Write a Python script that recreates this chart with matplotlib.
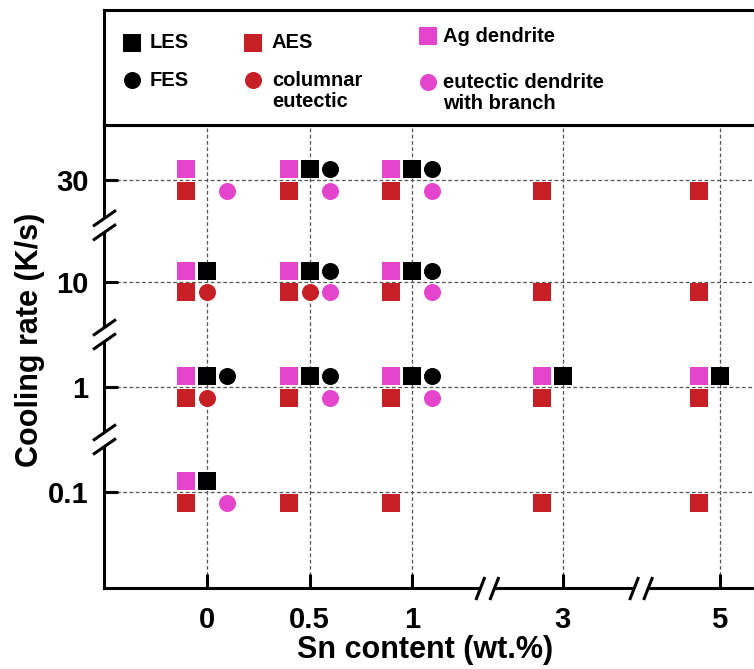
import matplotlib
matplotlib.use("Agg")
import matplotlib.pyplot as plt
from matplotlib.lines import Line2D
from matplotlib.transforms import IdentityTransform

plt.rcParams["font.family"] = ["Liberation Sans", "DejaVu Sans"]
plt.rcParams["font.weight"] = "bold"

# axis categories (both axes are broken)
sn_ticks = [0, 0.5, 1, 3, 5]
rate_ticks = [0.1, 1, 10, 30]

# observed morphologies: Sn content (wt.%) and cooling rate (K/s)
les_sn = [0, 0, 0, 0.5, 0.5, 0.5, 1, 1, 1, 3, 5]
les_rate = [10, 1, 0.1, 30, 10, 1, 30, 10, 1, 1, 1]

fes_sn = [0, 0.5, 0.5, 0.5, 1, 1, 1]
fes_rate = [1, 30, 10, 1, 30, 10, 1]

aes_sn = [0, 0, 0, 0, 0.5, 0.5, 0.5, 0.5, 1, 1, 1, 1, 3, 3, 3, 3, 5, 5, 5, 5]
aes_rate = [30, 10, 1, 0.1, 30, 10, 1, 0.1, 30, 10, 1, 0.1, 30, 10, 1, 0.1, 30, 10, 1, 0.1]

col_sn = [0, 0, 0.5]
col_rate = [10, 1, 10]

ag_sn = [0, 0, 0, 0, 0.5, 0.5, 0.5, 1, 1, 1, 3, 5]
ag_rate = [30, 10, 1, 0.1, 30, 10, 1, 30, 10, 1, 1, 1]

edb_sn = [0, 0, 0.5, 0.5, 0.5, 1, 1, 1]
edb_rate = [30, 0.1, 30, 10, 1, 30, 10, 1]

# where each category sits on the broken axes
sn_pos = {0: 0, 0.5: 1, 1: 2, 3: 3.47, 5: 5.0}
rate_pos = {0.1: 0, 1: 1, 10: 2, 30: 2.97}

RED = "#c62026"
PINK = "#e545cc"

series = [
    # label, sn, rate, marker, color, x shift, y shift
    ("LES", les_sn, les_rate, "s", "black", 0.0, 0.105),
    ("FES", fes_sn, fes_rate, "o", "black", 0.195, 0.105),
    ("AES", aes_sn, aes_rate, "s", RED, -0.205, -0.10),
    ("columnar\neutectic", col_sn, col_rate, "o", RED, 0.0, -0.10),
    ("Ag dendrite", ag_sn, ag_rate, "s", PINK, -0.205, 0.105),
    ("eutectic dendrite\nwith branch", edb_sn, edb_rate, "o", PINK, 0.195, -0.10),
]

W, H = 754, 669
fig = plt.figure(figsize=(W / 100, H / 100), dpi=100)

left, bottom, top, right = 104, 588, 125, 804
ax = fig.add_axes([left / W, (H - bottom) / H, (right - left) / W, (bottom - top) / H])
lax = fig.add_axes([left / W, (H - top) / H, (right - left) / W, (top - 10) / H])

for label, sn, rate, mk, col, dx, dy in series:
    xs = [sn_pos[s] + dx for s in sn]
    ys = [rate_pos[r] + dy for r in rate]
    ax.scatter(xs, ys, marker=mk, s=150, c=col, linewidths=0, zorder=3)

ax.set_xlim(-1.005, 5.824)
ax.set_ylim(-0.914, 3.495)
ax.set_xticks([sn_pos[s] for s in sn_ticks])
ax.set_xticklabels([str(s) for s in sn_ticks])
ax.set_yticks([rate_pos[r] for r in rate_ticks])
ax.set_yticklabels([str(r) for r in rate_ticks])
ax.tick_params(direction="in", length=10, width=2.2, labelsize=21)
ax.tick_params(axis="x", pad=13)
ax.tick_params(axis="y", pad=11)
ax.grid(True, linestyle=(0, (3, 2)), color="#555555", linewidth=0.9, zorder=1)
ax.set_axisbelow(True)
for sp in ["left", "bottom", "top"]:
    ax.spines[sp].set_linewidth(2.2)
ax.spines["right"].set_visible(False)

ax.set_xlabel("Sn content (wt.%)", fontsize=22, fontweight="bold", va="center")
ax.xaxis.set_label_coords(0.459, -0.134)
ax.set_ylabel("Cooling rate (K/s)", fontsize=22, fontweight="bold", va="center")
ax.yaxis.set_label_coords(-0.106, 0.536)

# axis break marks
fig.canvas.draw()


def add_line(xs, ys, color="black", lw=2.2):
    fig.add_artist(Line2D(xs, ys, color=color, lw=lw, transform=IdentityTransform(),
                          zorder=10, solid_capstyle="butt"))


x0 = ax.get_xlim()[0]
y0 = ax.get_ylim()[0]
for yb in [1.50, 0.50, 2.54]:
    px, py = ax.transData.transform((x0, yb))
    add_line([px, px], [py - 7, py + 7], color="white", lw=4)
    for off in (-7, 7):
        add_line([px - 11, px + 12], [py + off - 8, py + off + 8])
for xb in [2.735, 4.235]:
    px, py = ax.transData.transform((xb, y0))
    add_line([px - 7, px + 7], [py, py], color="white", lw=4)
    for off in (-7, 7):
        add_line([px + off - 4.5, px + off + 4.5], [py - 12, py + 11])

# legend box above the plot
lax.set_xlim(left, right)
lax.set_ylim(top, 10)
lax.set_xticks([])
lax.set_yticks([])
for sp in ["left", "bottom", "top"]:
    lax.spines[sp].set_linewidth(2.2)
lax.spines["right"].set_visible(False)

legend_spots = [
    (132, 43, 150),
    (132, 80, 150),
    (253, 43, 272),
    (253, 80, 272),
    (428, 36, 443),
    (428, 82, 443),
]
for (label, sn, rate, mk, col, dx, dy), (mx, my, tx) in zip(series, legend_spots):
    lax.scatter([mx], [my], marker=mk, s=150, c=col, linewidths=0)
    ty = my if "\n" not in label else my + 11
    lax.text(tx, ty, label, fontsize=14.5, va="center", ha="left", linespacing=1.12)

fig.savefig("out.png", dpi=100)
